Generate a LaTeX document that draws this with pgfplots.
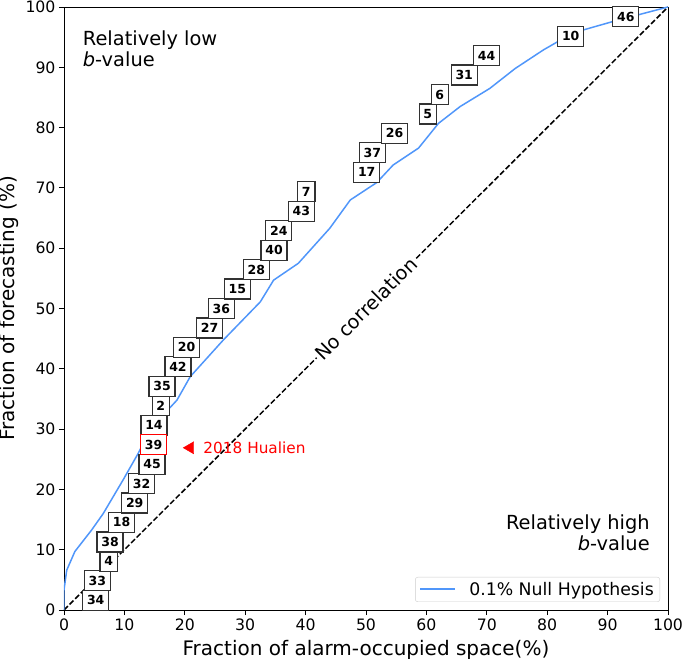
\documentclass[border=0pt]{standalone}
\usepackage{pgfplots}
\pgfplotsset{compat=1.18}
\usepackage{fontspec}
\setmainfont{DejaVu Sans}[ItalicFont={DejaVu Sans Oblique},BoldFont={DejaVu Sans Bold},BoldItalicFont={DejaVu Sans Bold Oblique}]
\definecolor{nullblue}{RGB}{80,150,250}
\definecolor{boxedge}{RGB}{50,50,50}

\pgfplotstableread{
x y label
5.25 1.61 34
5.51 4.84 33
7.40 8.06 4
7.62 11.29 38
9.55 14.52 18
11.71 17.74 29
12.86 20.97 32
14.57 24.19 45
14.90 30.65 14
16.03 33.87 2
16.23 37.10 35
18.87 40.32 42
20.31 43.55 20
24.12 46.77 27
26.04 50.00 36
28.69 53.23 15
31.84 56.45 28
34.77 59.68 40
35.56 62.90 24
39.29 66.13 43
40.12 69.35 7
50.12 72.58 17
51.05 75.81 37
54.75 79.03 26
60.23 82.26 5
62.22 85.48 6
66.26 88.71 31
69.97 91.94 44
83.89 95.16 10
93.01 98.39 46
}\boxdata

\pgfplotstableread{
x y label
14.82 27.42 39
}\redbox

\pgfplotstableread{
x y
0 0
0 3.3
0.45 6.6
1.8 9.7
4.6 13.3
6.5 16.0
9.8 21.6
12.3 26.0
14.2 29.9
16.2 32.1
18.7 34.8
20.9 38.7
26.4 44.8
32.5 51.1
34.7 54.7
38.8 57.5
44.0 63.3
47.4 68.0
51.8 70.9
54.5 73.8
58.7 76.6
62.0 80.7
65.6 83.5
70.5 86.5
74.7 89.8
79.4 92.9
82.7 94.8
86.0 96.2
90.9 97.6
100 100
}\nullhyp

\begin{document}
\begin{tikzpicture}
\begin{axis}[
  name=ax,
  width=604bp, height=603bp, scale only axis,
  xmin=0, xmax=100, ymin=0, ymax=100,
  xtick={0,10,...,100}, ytick={0,10,...,100},
  tick pos=left,
  tick align=outside, major tick length=5bp,
  tick style={black, line width=0.9bp},
  axis line style={line width=0.9bp},
  /pgf/number format/assume math mode=true,
  tick label style={font=\fontsize{15.7bp}{18bp}\selectfont},
  xlabel={Fraction of alarm-occupied space(\%)},
  ylabel={Fraction of forecasting (\%)},
  label style={font=\fontsize{20bp}{24bp}\selectfont},
  xlabel style={at={(axis description cs:0.5,0)}, anchor=base, yshift=-45bp},
  ylabel style={at={([xshift=-49.7bp]axis description cs:0,0.5)}, anchor=base},
  legend style={at={(1,0)}, anchor=south east, xshift=-8bp, yshift=8bp,
    draw=black!20, rounded corners=2.5bp, fill=white,
    font=\fontsize{17.3bp}{20bp}\selectfont, inner xsep=4bp, inner ysep=3bp},
  legend cell align=left,
]
\addplot[black, dashed, line width=1.5bp, dash pattern=on 5.5bp off 2.4bp, forget plot] coordinates {(0,0) (100,100)};

\addplot[only marks, mark=none, forget plot, nodes near coords, point meta=explicit symbolic,
  every node near coord/.style={anchor=center, draw=boxedge, fill=white, line width=1.2bp, text=black,
    font=\bfseries\fontsize{12.5bp}{14bp}\selectfont, inner xsep=4.3bp, inner ysep=0pt, minimum height=20bp}]
  table[x=x, y=y, meta=label] {\boxdata};

\addplot[only marks, mark=none, forget plot, nodes near coords, point meta=explicit symbolic,
  every node near coord/.style={anchor=center, draw=red, fill=white, line width=1.2bp, text=black,
    font=\bfseries\fontsize{12.5bp}{14bp}\selectfont, inner xsep=4.3bp, inner ysep=0pt, minimum height=20bp}]
  table[x=x, y=y, meta=label] {\redbox};

\addplot[nullblue, line width=1.5bp, mark=none,
  legend image code/.code={\draw[draw=nullblue, line width=2bp, rounded corners=0pt] (0bp,0bp) -- (35bp,0bp); \path[draw=none] (36bp,0bp) -- (47bp,0bp);}]
  table[x=x, y=y] {\nullhyp};
\addlegendentry{0.1\% Null Hypothesis}

\addplot[only marks, mark=triangle*, red, mark size=7bp, mark options={rotate=90, fill=red, draw=red}, forget plot] coordinates {(20.9,26.9)};

\node[anchor=base west, text=red, inner sep=0pt, font=\fontsize{15.3bp}{18bp}\selectfont] at (axis cs:23.06,25.99) {2018 Hualien};

\node[rotate=45, fill=white, inner sep=2bp, font=\fontsize{19.2bp}{22bp}\selectfont] at (axis cs:50,50) {No correlation};

\node[anchor=north west, align=left, inner sep=0pt, font=\fontsize{19.4bp}{20.7bp}\selectfont] at (axis cs:3.1,96.1) {Relatively low\\\textit{b}-value};
\node[anchor=north east, align=right, inner sep=0pt, font=\fontsize{19.4bp}{20.7bp}\selectfont] at (axis cs:97.0,15.75) {Relatively high\\\textit{b}-value};
\end{axis}
\pgfresetboundingbox
\path[use as bounding box] ([xshift=-64bp,yshift=-49bp]ax.south west) rectangle ([xshift=17bp,yshift=7bp]ax.north east);
\end{tikzpicture}
\end{document}
